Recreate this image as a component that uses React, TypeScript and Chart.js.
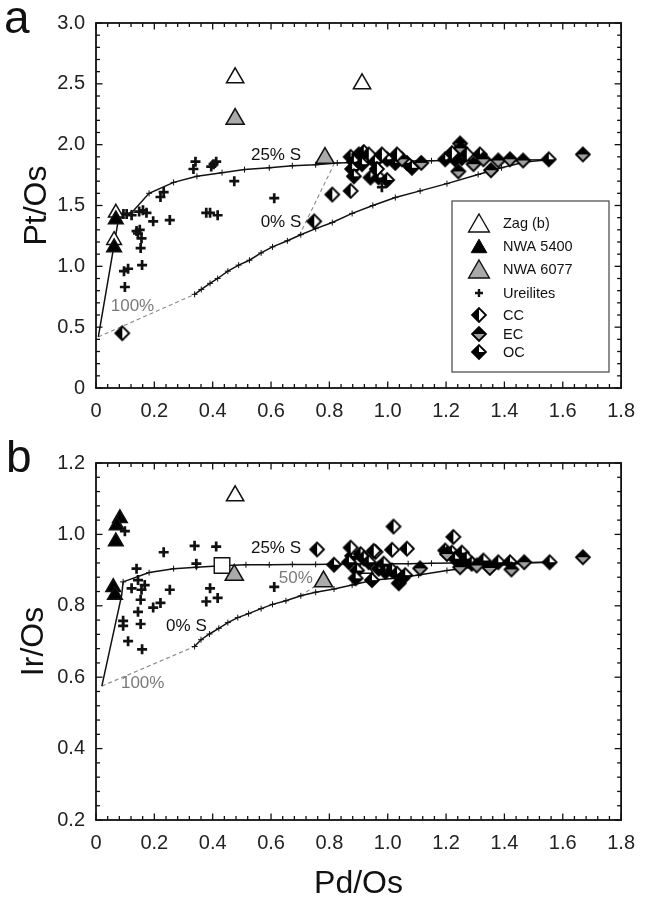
import React, { useEffect, useRef } from 'react';
import { Chart, registerables } from 'chart.js';
Chart.register(...registerables);

const FONT = '"Liberation Sans", Arial, Helvetica, sans-serif';

// ---------- tick labels / legend labels ----------
const xTickLabels = ['0', '0.2', '0.4', '0.6', '0.8', '1.0', '1.2', '1.4', '1.6', '1.8'];
const yTickLabelsA = ['0', '0.5', '1.0', '1.5', '2.0', '2.5', '3.0'];
const yTickLabelsB = ['0.2', '0.4', '0.6', '0.8', '1.0', '1.2'];
const legendLabels = ['Zag (b)', 'NWA 5400', 'NWA 6077', 'Ureilites', 'CC', 'EC', 'OC'];

// ---------- panel a : Pt/Os vs Pd/Os ----------
const zagA = [[0.477, 2.55], [0.912, 2.50]];
const zagOutlineA = [[0.068, 1.44], [0.062, 1.215]];
const nwa5400A = [[0.068, 1.385], [0.062, 1.155]];
const nwa6077A = [[0.477, 2.21], [0.785, 1.89]];
const ureilitesA = [
  [0.341, 1.86], [0.334, 1.80], [0.403, 1.84], [0.412, 1.86], [0.395, 1.82], [0.474, 1.70],
  [0.221, 1.57], [0.232, 1.61], [0.611, 1.56], [0.105, 1.43], [0.122, 1.42], [0.094, 1.43],
  [0.148, 1.45], [0.161, 1.46], [0.173, 1.44], [0.196, 1.37], [0.253, 1.38], [0.378, 1.44],
  [0.391, 1.44], [0.417, 1.42], [0.139, 1.29], [0.150, 1.30], [0.144, 1.27], [0.156, 1.23],
  [0.153, 1.15], [0.158, 1.01], [0.096, 0.96], [0.110, 0.98], [0.099, 0.83], [0.980, 1.65],
];
const ccA = [
  [0.09, 0.45], [0.748, 1.37], [0.81, 1.59], [0.873, 1.62], [0.935, 1.92], [0.98, 1.92],
  [0.963, 1.80], [1.032, 1.92], [1.22, 1.93], [1.271, 1.92],
];
const ecA = [
  [1.049, 1.88], [1.115, 1.85], [1.248, 2.01], [1.25, 1.97], [1.242, 1.78], [1.294, 1.84],
  [1.328, 1.88], [1.354, 1.79], [1.379, 1.87], [1.419, 1.88], [1.464, 1.87], [1.669, 1.92],
];
const ocA = [
  [0.873, 1.90], [0.901, 1.92], [0.918, 1.94], [0.884, 1.86], [0.878, 1.80], [0.912, 1.84],
  [0.956, 1.86], [0.998, 1.88], [0.941, 1.73], [0.969, 1.73], [0.998, 1.71], [1.026, 1.85],
  [1.066, 1.85], [1.083, 1.81], [0.884, 1.74], [1.197, 1.88], [1.231, 1.88], [1.254, 1.89],
  [1.316, 1.92], [1.552, 1.88],
];
const steepA = [[0.008, 0.42], [0.075, 1.36], [0.093, 1.42], [0.122, 1.44]];
const sulfur25A = [
  [0.122, 1.44], [0.182, 1.60], [0.266, 1.69], [0.346, 1.74], [0.432, 1.77], [0.509, 1.795],
  [0.594, 1.81], [0.673, 1.827], [0.753, 1.835], [0.827, 1.85], [0.91, 1.856], [0.99, 1.86],
  [1.07, 1.865], [1.15, 1.868], [1.23, 1.87], [1.31, 1.872], [1.39, 1.874], [1.47, 1.875],
  [1.552, 1.876],
];
const sulfur0A = [
  [0.338, 0.77], [0.361, 0.81], [0.391, 0.86], [0.417, 0.90], [0.452, 0.96], [0.489, 1.01],
  [0.526, 1.05], [0.566, 1.11], [0.605, 1.16], [0.656, 1.21], [0.702, 1.26], [0.753, 1.31],
  [0.81, 1.36], [0.878, 1.435], [0.949, 1.50], [1.026, 1.565], [1.111, 1.62], [1.203, 1.68],
  [1.31, 1.755], [1.39, 1.81], [1.47, 1.857], [1.552, 1.876],
];
const mix100A = [[0.008, 0.42], [0.338, 0.77]];
const mixSideA = [[0.696, 1.25], [0.82, 1.86]];

// ---------- panel b : Ir/Os vs Pd/Os ----------
const zagB = [[0.477, 1.108], [0.92, 0.905]];
const squareB = [[0.432, 0.913]];
const nwa5400B = [[0.082, 1.045], [0.071, 1.025], [0.068, 0.98], [0.059, 0.852], [0.065, 0.83]];
const nwa6077B = [[0.474, 0.886], [0.78, 0.868]];
const ureilitesB = [
  [0.099, 1.009], [0.232, 0.95], [0.338, 0.968], [0.412, 0.966], [0.344, 0.918], [0.139, 0.904],
  [0.144, 0.872], [0.122, 0.849], [0.156, 0.845], [0.167, 0.858], [0.153, 0.817], [0.144, 0.783],
  [0.196, 0.795], [0.221, 0.808], [0.253, 0.845], [0.093, 0.758], [0.093, 0.744], [0.153, 0.749],
  [0.110, 0.701], [0.158, 0.678], [0.391, 0.849], [0.378, 0.812], [0.417, 0.822], [0.611, 0.853],
];
const ccB = [
  [0.758, 0.958], [1.02, 1.022], [1.225, 0.993], [0.958, 0.951], [1.015, 0.957], [1.066, 0.96],
  [0.873, 0.963], [0.952, 0.954],
];
const ecB = [
  [1.111, 0.905], [1.248, 0.908], [1.305, 0.913], [1.424, 0.902], [1.468, 0.922], [1.669, 0.936],
  [1.203, 0.945], [1.35, 0.906],
];
const ocB = [
  [0.878, 0.94], [0.907, 0.945], [0.918, 0.933], [0.935, 0.922], [0.816, 0.915], [0.867, 0.922],
  [0.895, 0.899], [0.89, 0.877], [0.946, 0.872], [0.969, 0.904], [0.986, 0.918], [0.992, 0.895],
  [1.015, 0.899], [1.032, 0.89], [1.038, 0.863], [1.049, 0.877], [1.06, 0.886], [1.197, 0.955],
  [1.22, 0.949], [1.231, 0.932], [1.254, 0.949], [1.271, 0.932], [1.288, 0.918], [1.328, 0.927],
  [1.379, 0.922], [1.419, 0.922], [1.555, 0.922],
];
const steepB = [[0.02, 0.575], [0.088, 0.83], [0.093, 0.867]];
const sulfur25B = [
  [0.093, 0.867], [0.182, 0.893], [0.266, 0.904], [0.344, 0.908], [0.43, 0.912], [0.514, 0.915],
  [0.594, 0.915], [0.673, 0.916], [0.753, 0.916], [0.83, 0.917], [0.91, 0.917], [0.99, 0.918],
  [1.07, 0.918], [1.15, 0.919], [1.23, 0.92], [1.31, 0.92], [1.39, 0.921], [1.47, 0.921],
  [1.555, 0.922],
];
const sulfur0B = [
  [0.338, 0.686], [0.36, 0.705], [0.389, 0.721], [0.421, 0.737], [0.452, 0.753], [0.486, 0.767],
  [0.523, 0.778], [0.566, 0.792], [0.605, 0.804], [0.651, 0.814], [0.702, 0.828], [0.753, 0.838],
  [0.816, 0.847], [0.878, 0.858], [0.952, 0.872], [1.038, 0.878], [1.106, 0.886], [1.203, 0.899],
  [1.288, 0.908], [1.379, 0.913], [1.47, 0.92], [1.555, 0.922],
];
const mix100B = [[0.02, 0.575], [0.338, 0.686]];
const mix50B = [[0.70, 0.828], [0.78, 0.87]];

// ---------- helpers ----------
type P = number[];
const pts = (a: P[]) => a.map(([x, y]) => ({ x, y }));

function makeDiamond(kind: string): HTMLCanvasElement {
  const c = document.createElement('canvas');
  c.width = 18;
  c.height = 18;
  const g = c.getContext('2d') as CanvasRenderingContext2D;
  const cx = 9, cy = 9, h = 6.9;
  const T = [cx, cy - h], B = [cx, cy + h], L = [cx - h, cy], R = [cx + h, cy], C = [cx, cy];
  const poly = (p: number[][], fill: string) => {
    g.beginPath();
    g.moveTo(p[0][0], p[0][1]);
    for (let i = 1; i < p.length; i++) g.lineTo(p[i][0], p[i][1]);
    g.closePath();
    g.fillStyle = fill;
    g.fill();
  };
  poly([T, R, B, L], '#fff');
  if (kind === 'CC') poly([T, L, B], '#000');
  if (kind === 'EC') {
    poly([L, T, R], '#000');
    poly([L, B, R], '#a0a0a0');
  }
  if (kind === 'OC') {
    poly([C, L, T], '#000');
    poly([C, R, B], '#000');
    poly([C, L, B], '#000');
  }
  g.beginPath();
  g.moveTo(T[0], T[1]);
  g.lineTo(R[0], R[1]);
  g.lineTo(B[0], B[1]);
  g.lineTo(L[0], L[1]);
  g.closePath();
  g.lineWidth = 1.9;
  g.strokeStyle = '#000';
  g.stroke();
  return c;
}

function drawTri(ctx: CanvasRenderingContext2D, x: number, y: number, r: number, fill: string, stroke: string, lw: number) {
  ctx.beginPath();
  ctx.moveTo(x, y - r);
  ctx.lineTo(x + 0.866 * r, y + 0.5 * r);
  ctx.lineTo(x - 0.866 * r, y + 0.5 * r);
  ctx.closePath();
  ctx.fillStyle = fill;
  ctx.fill();
  ctx.lineWidth = lw;
  ctx.strokeStyle = stroke;
  ctx.stroke();
}

function lineDs(label: string, data: P[], grey = false, marks = false) {
  return {
    label,
    data: pts(data),
    showLine: true,
    borderColor: grey ? '#8a8a8a' : '#111',
    borderWidth: grey ? 1.1 : 1.5,
    borderDash: grey ? [4, 3] : [],
    pointStyle: 'cross',
    pointRadius: marks ? 3 : 0,
    pointBorderWidth: 1,
    pointBorderColor: '#111',
    tension: 0,
    fill: false,
    order: grey ? 60 : 50,
  };
}

function triDs(label: string, data: P[], r: number, fill: string, order: number) {
  return {
    label,
    data: pts(data),
    showLine: false,
    pointStyle: 'triangle',
    pointRadius: r,
    backgroundColor: fill,
    borderColor: '#111',
    pointBorderWidth: 1.5,
    order,
  };
}

function imgDs(label: string, data: P[], img: HTMLCanvasElement) {
  return { label, data: pts(data), showLine: false, pointStyle: img, pointRadius: 7, order: 10 };
}

function plusDs(label: string, data: P[]) {
  return {
    label,
    data: pts(data),
    showLine: false,
    pointStyle: 'cross',
    pointRadius: 5,
    pointBorderWidth: 2.7,
    borderColor: '#111',
    order: 8,
  };
}

interface Txt { t: string; x: number; y: number; grey?: boolean }

function decorPlugin(opts: any) {
  return {
    id: 'decor',
    afterDatasetsDraw(chart: any) {
      const ctx: CanvasRenderingContext2D = chart.ctx;
      const { left, right, top, bottom } = chart.chartArea;
      const xs = chart.scales.x, ys = chart.scales.y;
      ctx.save();
      // annotations
      ctx.textAlign = 'center';
      ctx.textBaseline = 'middle';
      ctx.font = `17px ${FONT}`;
      (opts.texts as Txt[]).forEach((tx) => {
        ctx.fillStyle = tx.grey ? '#7a7a7a' : '#111';
        ctx.fillText(tx.t, xs.getPixelForValue(tx.x), ys.getPixelForValue(tx.y));
      });
      // inward ticks on four sides
      ctx.strokeStyle = '#111';
      ctx.lineWidth = 1.3;
      const seg = (a: number, b: number, c: number, d: number) => {
        ctx.beginPath();
        ctx.moveTo(a, b);
        ctx.lineTo(c, d);
        ctx.stroke();
      };
      for (let i = 0; i <= 45; i++) {
        const px = xs.getPixelForValue(i * 0.04);
        const Lt = i % 5 === 0 ? 6.5 : 4;
        seg(px, bottom, px, bottom - Lt);
        seg(px, top, px, top + Lt);
      }
      for (let i = 0; i <= opts.yCount; i++) {
        const py = ys.getPixelForValue(opts.yStart + i * opts.yMinor);
        const Lt = i % 5 === 0 ? 6.5 : 4;
        seg(left, py, left + Lt, py);
        seg(right, py, right - Lt, py);
      }
      ctx.lineWidth = 1.8;
      ctx.strokeRect(left, top, right - left, bottom - top);
      ctx.restore();
    },
    afterDraw(chart: any) {
      const ctx: CanvasRenderingContext2D = chart.ctx;
      ctx.save();
      ctx.fillStyle = '#111';
      ctx.textAlign = 'left';
      ctx.textBaseline = 'alphabetic';
      ctx.font = `46px ${FONT}`;
      ctx.fillText(opts.letter.t, opts.letter.x, opts.letter.y);
      if (opts.legend) {
        const lg = opts.legend;
        ctx.strokeStyle = '#444';
        ctx.lineWidth = 1.2;
        ctx.strokeRect(lg.x, lg.y, lg.w, lg.h);
        ctx.font = `14.5px ${FONT}`;
        ctx.textBaseline = 'middle';
        lg.rows.forEach((row: any, i: number) => {
          const sx = lg.symX, sy = row.y;
          if (row.sym === 'zag') drawTri(ctx, sx, sy + 3, 12, '#fff', '#111', 1.4);
          if (row.sym === 'n5400') drawTri(ctx, sx, sy + 2.2, 9, '#000', '#000', 1);
          if (row.sym === 'n6077') drawTri(ctx, sx, sy + 3, 12, '#aaa', '#111', 1.4);
          if (row.sym === 'plus') {
            ctx.strokeStyle = '#111';
            ctx.lineWidth = 2.4;
            ctx.beginPath();
            ctx.moveTo(sx - 4, sy);
            ctx.lineTo(sx + 4, sy);
            ctx.moveTo(sx, sy - 4);
            ctx.lineTo(sx, sy + 4);
            ctx.stroke();
          }
          if (row.img) ctx.drawImage(row.img, sx - 9, sy - 9);
          ctx.fillStyle = '#111';
          ctx.fillText(legendLabels[i], lg.textX, sy + 1);
        });
      }
      ctx.restore();
    },
  };
}

function axisOpts(kind: 'x' | 'y', o: any) {
  return {
    type: 'linear',
    min: o.min,
    max: o.max,
    grid: { display: false, drawTicks: false },
    border: { display: false },
    afterFit: (s: any) => {
      if (kind === 'y') s.width = 96;
      else s.height = o.h;
    },
    ticks: {
      stepSize: o.step,
      autoSkip: false,
      maxRotation: 0,
      padding: 11,
      color: '#222',
      font: { family: FONT, size: 20 },
      callback: (v: number) => o.labels[Math.round((v - o.min) / o.step)],
    },
    title: o.title
      ? {
          display: true,
          text: o.title,
          color: '#111',
          font: { family: FONT, size: 32, lineHeight: 1 },
          padding: kind === 'y' ? { top: o.tpad, bottom: 0 } : { top: 0, bottom: 0 },
        }
      : { display: false },
  };
}

function buildConfig(panel: 'a' | 'b') {
  const CC = makeDiamond('CC'), EC = makeDiamond('EC'), OC = makeDiamond('OC');
  let datasets: any[];
  let plugin: any;
  let scales: any;
  let padding: any;
  if (panel === 'a') {
    datasets = [
      triDs(legendLabels[0], zagA, 10, '#fff', 15),
      triDs('outline', zagOutlineA, 8.5, '#fff', 3),
      triDs(legendLabels[1], nwa5400A, 8.5, '#000', 2),
      triDs(legendLabels[2], nwa6077A, 10.5, '#aaa', 2),
      plusDs(legendLabels[3], ureilitesA),
      imgDs(legendLabels[4], ccA, CC),
      imgDs(legendLabels[5], ecA, EC),
      imgDs(legendLabels[6], ocA, OC),
      lineDs('steep', steepA),
      lineDs('25% S', sulfur25A, false, true),
      lineDs('0% S', sulfur0A, false, true),
      lineDs('100%', mix100A, true),
      lineDs('mix', mixSideA, true),
    ];
    scales = {
      x: axisOpts('x', { min: 0, max: 1.8, step: 0.2, labels: xTickLabels, h: 52 }),
      y: axisOpts('y', { min: 0, max: 3.0, step: 0.5, labels: yTickLabelsA, title: 'Pt/Os', tpad: 21 }),
    };
    padding = { left: 0, right: 22.5, top: 18, bottom: 0 };
    plugin = decorPlugin({
      yStart: 0, yMinor: 0.1, yCount: 30,
      letter: { t: 'a', x: 4, y: 33 },
      texts: [
        { t: '25% S', x: 0.617, y: 1.916 },
        { t: '0% S', x: 0.634, y: 1.362 },
        { t: '100%', x: 0.125, y: 0.673, grey: true },
      ],
      legend: {
        x: 452, y: 201, w: 157, h: 171, symX: 479, textX: 503,
        rows: [
          { y: 223, sym: 'zag' }, { y: 246, sym: 'n5400' }, { y: 269, sym: 'n6077' },
          { y: 293, sym: 'plus' }, { y: 315, img: CC }, { y: 334, img: EC }, { y: 352, img: OC },
        ],
      },
    });
  } else {
    datasets = [
      triDs(legendLabels[0], zagB, 10, '#fff', 15),
      {
        label: 'square', data: pts(squareB), showLine: false, pointStyle: 'rect', pointRadius: 11,
        backgroundColor: '#fff', borderColor: '#111', pointBorderWidth: 1.4, order: 3,
      },
      triDs(legendLabels[1], nwa5400B, 8.5, '#000', 2),
      triDs(legendLabels[2], nwa6077B, 10.5, '#aaa', 2),
      plusDs(legendLabels[3], ureilitesB),
      imgDs(legendLabels[4], ccB, CC),
      imgDs(legendLabels[5], ecB, EC),
      imgDs(legendLabels[6], ocB, OC),
      lineDs('steep', steepB),
      lineDs('25% S', sulfur25B, false, true),
      lineDs('0% S', sulfur0B, false, true),
      lineDs('100%', mix100B, true),
      lineDs('50%', mix50B, true),
    ];
    scales = {
      x: axisOpts('x', { min: 0, max: 1.8, step: 0.2, labels: xTickLabels, h: 80, title: 'Pd/Os' }),
      y: axisOpts('y', { min: 0.2, max: 1.2, step: 0.2, labels: yTickLabelsB, title: 'Ir/Os', tpad: 18 }),
    };
    padding = { left: 0, right: 22.5, top: 12, bottom: 0 };
    plugin = decorPlugin({
      yStart: 0.2, yMinor: 0.04, yCount: 25,
      letter: { t: 'b', x: 6, y: 32 },
      texts: [
        { t: '25% S', x: 0.617, y: 0.961 },
        { t: '0% S', x: 0.31, y: 0.743 },
        { t: '50%', x: 0.685, y: 0.877, grey: true },
        { t: '100%', x: 0.16, y: 0.583, grey: true },
      ],
    });
  }
  return {
    type: 'scatter',
    data: { datasets },
    options: {
      animation: false,
      responsive: false,
      devicePixelRatio: 1,
      events: [],
      layout: { padding },
      scales,
      plugins: { legend: { display: false }, tooltip: { enabled: false } },
    },
    plugins: [plugin],
  } as any;
}

function Panel({ panel, top, height }: { panel: 'a' | 'b'; top: number; height: number }) {
  const ref = useRef<HTMLCanvasElement | null>(null);
  useEffect(() => {
    if (!ref.current) return;
    const chart = new Chart(ref.current, buildConfig(panel));
    return () => chart.destroy();
  }, [panel]);
  return (
    <canvas
      ref={ref}
      width={646}
      height={height}
      style={{ position: 'absolute', left: 0, top, width: 646, height }}
    />
  );
}

export default function App() {
  return (
    <div style={{ position: 'absolute', left: 0, top: 0, width: 646, height: 900, background: '#fff' }}>
      <Panel panel="a" top={0} height={440} />
      <Panel panel="b" top={440} height={460} />
    </div>
  );
}
